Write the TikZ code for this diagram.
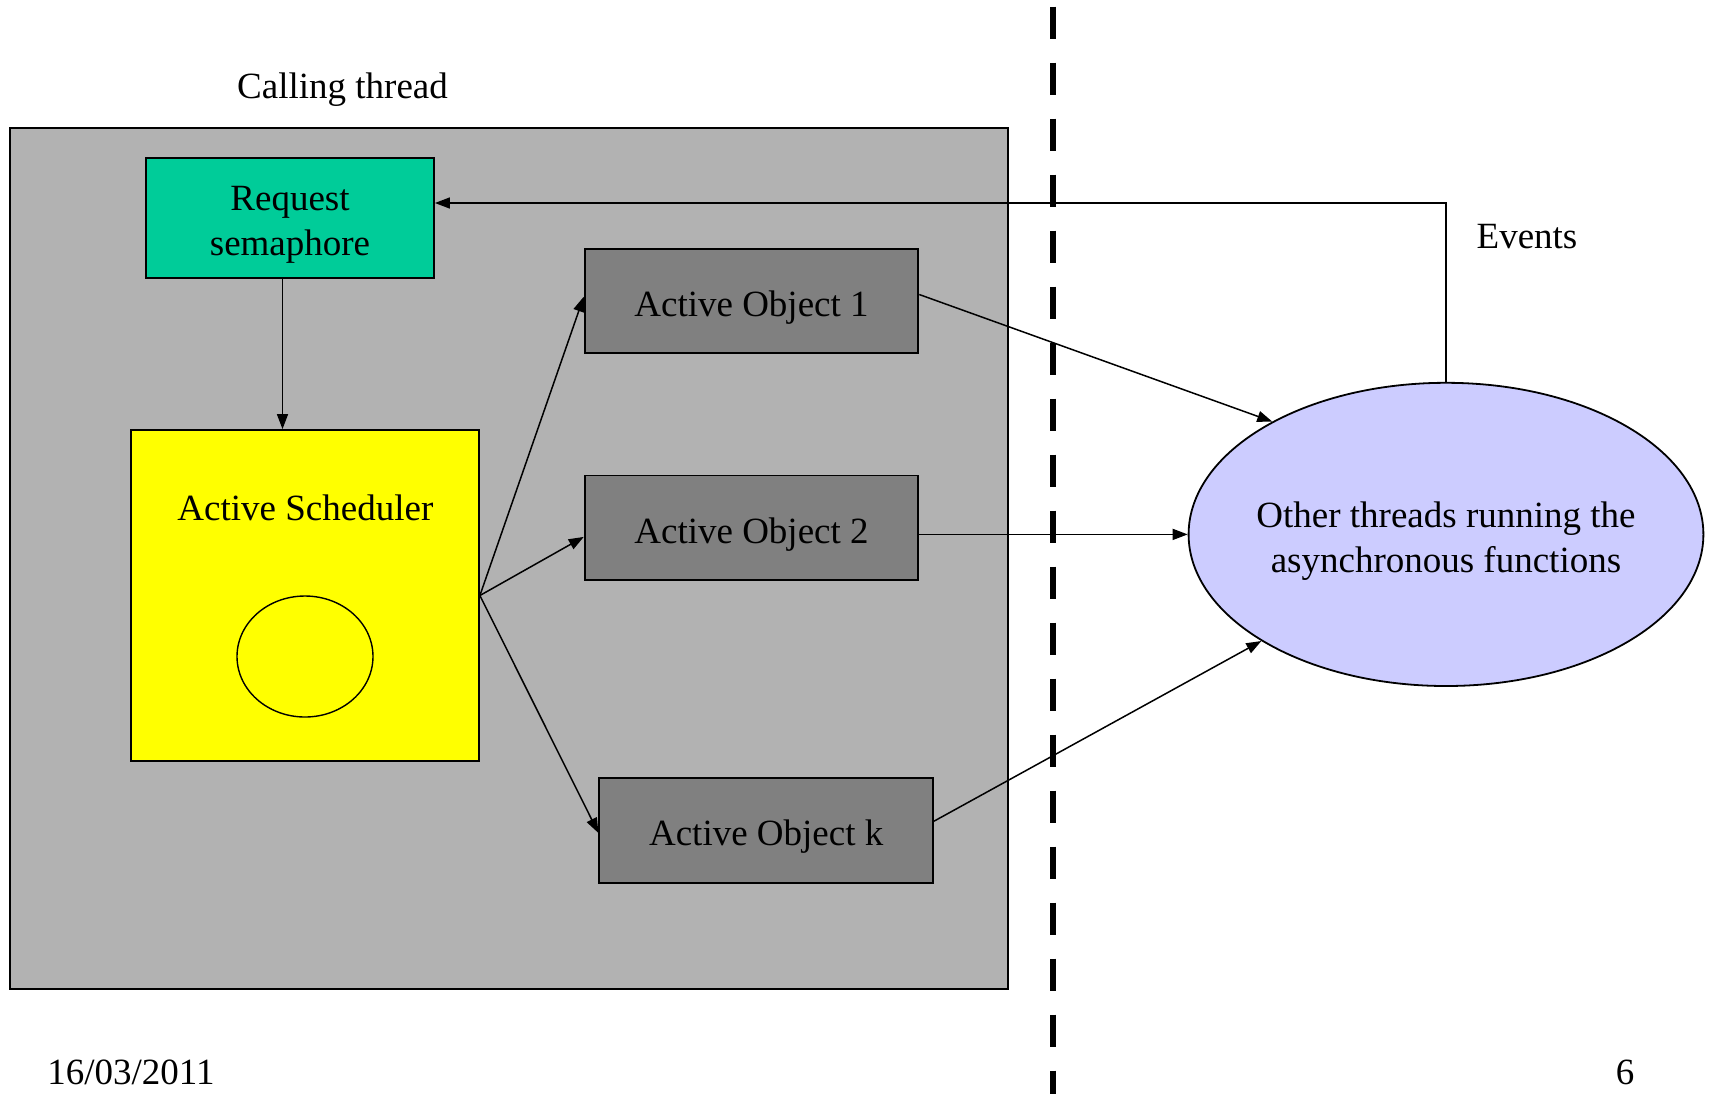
\documentclass[tikz,border=0pt]{standalone}
\usepackage{fontspec}
\setmainfont{Liberation Serif}
\usetikzlibrary{shapes.geometric,arrows.meta,calc}
\definecolor{threadgray}{HTML}{B2B2B2}
\definecolor{semteal}{HTML}{00CC99}
\definecolor{objgray}{HTML}{808080}
\definecolor{schedyellow}{HTML}{FFFF00}
\definecolor{otherlilac}{HTML}{CCCCFF}
\newcommand\diagfont{\fontsize{18.5}{22.4}\selectfont}
\begin{document}
\begin{tikzpicture}[x=0.5pt,y=-0.5pt,
  box/.style={draw=black,line width=0.9pt,rectangle,inner sep=0pt},
  objbox/.style={box,fill=objgray,minimum width=166.85pt,minimum height=52.35pt},
  txt/.style={font=\diagfont,inner sep=0pt,align=center},
  arr/.style={-{Triangle[length=7.5pt,width=5.5pt]},line width=0.75pt},
  divider/.style={line width=3pt,dash pattern=on 16pt off 12pt}]
\useasboundingbox (0,0) rectangle (1710,1094);

% calling thread area
\node[txt] (ctlabel) at (342.5,89.4) {Calling thread};
\node[box,fill=threadgray,minimum width=498.95pt,minimum height=430.8pt] (ct) at (508.75,558.4) {};

% thread boundary
\coordinate (divtop) at (1053,6.7);
\coordinate (divbot) at (1053,1094);
\draw[divider] (divtop) -- (divbot);

% components of the calling thread
\node[box,fill=semteal,minimum width=144pt,minimum height=60pt] (sem) at (290,218) {};
\node[txt] (semlabel) at ($(sem)+(0,6.5)$) {Request\\semaphore};
\node[box,fill=schedyellow,minimum width=174pt,minimum height=165.5pt] (sch) at (305,595.5) {};
\node[txt] (schlabel) at (305.4,508) {Active Scheduler};
\node[draw=black,line width=0.7pt,ellipse,fill=schedyellow,minimum width=68pt,minimum height=60.5pt,inner sep=0pt] (loop) at (305,656.5) {};

\node[objbox] (ao1) at (751.5,301) {};
\node[objbox] (ao2) at (751.5,527.9) {};
\node[objbox] (aok) at (766.2,830.5) {};
\node[txt] (ao1label) at ($(ao1)+(0,6.5)$) {Active Object 1};
\node[txt] (ao2label) at ($(ao2)+(0,6.5)$) {Active Object 2};
\node[txt] (aoklabel) at ($(aok)+(0,6.5)$) {Active Object k};

% other threads
\node[draw=black,line width=0.9pt,ellipse,fill=otherlilac,minimum width=257.4pt,minimum height=151.6pt,inner sep=0pt] (oth) at (1446,534.4) {};
\node[txt] (othlabel) at ($(oth)+(0,6.5)$) {Other threads running the\\asynchronous functions};
\node[txt] (evlabel) at (1527,236.7) {Events};

% connectors
\draw[arr] ([xshift=-3.75pt]sem.south) -- ([xshift=-3.75pt]sem.south |- sch.north);
\draw[arr] (sch.east) -- ($(ao1.west)+(0,-4.3)$);
\draw[arr] (sch.east) -- ($(ao2.west)+(0,9)$);
\draw[arr] (sch.east) -- ($(aok.west)+(0,2.5)$);
\draw[arr] ($(ao1.east)+(0,-6.5)$) -- (oth.147);
\draw[arr] (ao2.east |- oth.west) -- (oth.west);
\draw[arr] ($(aok.east)+(0,-9.3)$) -- (oth.210.6);
\draw[arr] (oth.north) |- ([yshift=7.5pt]sem.east);

% footer
\node[txt,anchor=base west] (date) at (47,1084) {16/03/2011};
\node[txt,anchor=base] (page) at (1625,1084) {6};
\end{tikzpicture}
\end{document}
